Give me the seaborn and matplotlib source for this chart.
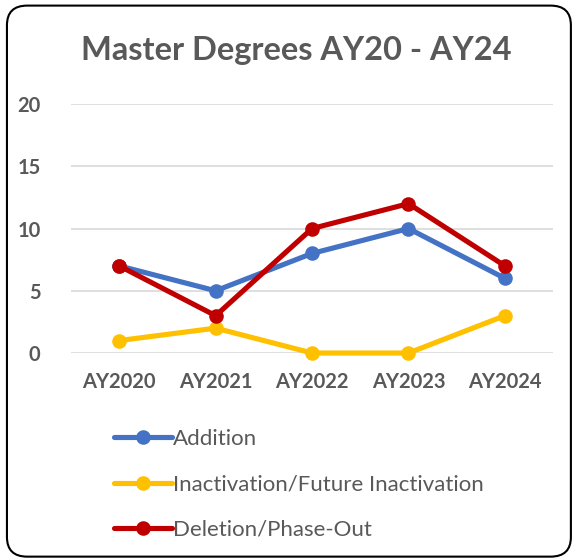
import matplotlib
matplotlib.use("Agg")
import matplotlib.pyplot as plt
from matplotlib.patches import FancyBboxPatch
import pandas as pd
import seaborn as sns

years = ["AY2020", "AY2021", "AY2022", "AY2023", "AY2024"]
addition = [7, 5, 8, 10, 6]
inactivation = [1, 2, 0, 0, 3]
deletion = [7, 3, 10, 12, 7]
series_names = ["Addition", "Inactivation/Future Inactivation", "Deletion/Phase-Out"]
colors = ["#4472C4", "#FFC000", "#C00000"]
y_ticks = [0, 5, 10, 15, 20]

df = pd.DataFrame({
    "year": years * 3,
    "value": addition + inactivation + deletion,
    "series": [series_names[0]] * 5 + [series_names[1]] * 5 + [series_names[2]] * 5,
})

sns.set_style("white")
plt.rcParams["font.family"] = ["Lato", "DejaVu Sans"]
gray = "#595959"

fig = plt.figure(figsize=(5.79, 5.6), dpi=100)
ax = fig.add_axes([0.1226, 0.3696, 0.8327, 0.4446])

sns.lineplot(data=df, x="year", y="value", hue="series", hue_order=series_names,
             palette=colors, marker="o", markersize=10.5, markeredgewidth=0,
             linewidth=3.7, sort=False, ax=ax, clip_on=False, zorder=3)

ax.set_xlim(-0.5, 4.5)
ax.set_ylim(0, 20)
ax.set_yticks(y_ticks)
ax.grid(axis="y", color="#d9d9d9", linewidth=1.2, zorder=0)
ax.set_axisbelow(True)
for s in ax.spines.values():
    s.set_visible(False)
ax.tick_params(axis="both", length=0, labelsize=14.5, labelcolor=gray)
ax.tick_params(axis="x", pad=14)
ax.tick_params(axis="y", pad=22)
for lbl in ax.get_xticklabels() + ax.get_yticklabels():
    lbl.set_fontweight("bold")
ax.set_xlabel("")
ax.set_ylabel("")

handles, labels = ax.get_legend_handles_labels()
ax.get_legend().remove()
fig.legend(handles, labels, loc="upper left", bbox_to_anchor=(0.163, 0.27),
           frameon=False, fontsize=16, labelcolor=gray, handlelength=2.6,
           handletextpad=0.05, labelspacing=1.15)

fig.text(0.511, 0.91, "Master Degrees AY20 - AY24", ha="center", va="center",
         fontsize=23.5, fontweight="bold", color=gray)

frame = FancyBboxPatch((0.012, 0.006), 0.974, 0.984,
                       boxstyle="round,pad=0,rounding_size=0.035",
                       transform=fig.transFigure, fill=False,
                       edgecolor="black", linewidth=1.5)
fig.patches.append(frame)

fig.savefig("out.png", dpi=100, facecolor="white")
